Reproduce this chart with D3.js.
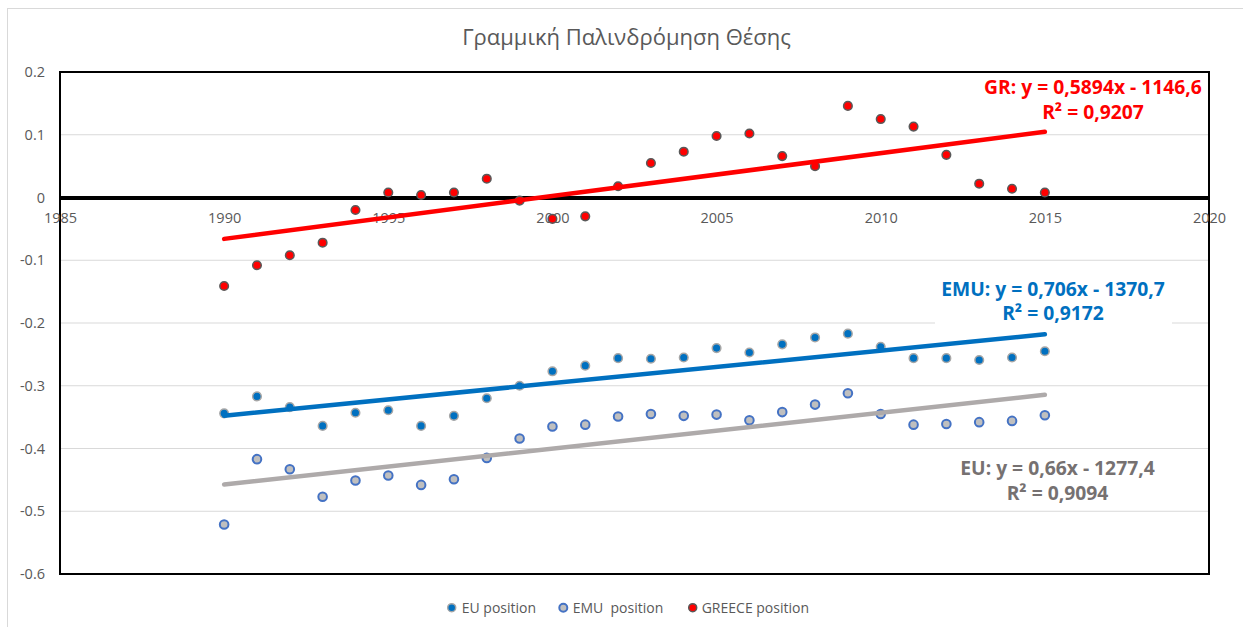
<!DOCTYPE html>
<html>
<head>
<meta charset="utf-8">
<script src="https://cdn.jsdelivr.net/npm/d3@7"></script>
<style>
  body { margin: 0; background: #fff; }
  #chart text { font-family: "Open Sans", "Noto Sans", sans-serif; }
</style>
</head>
<body>
<div id="chart"></div>
<script>
// values
const years = [1990, 1991, 1992, 1993, 1994, 1995, 1996, 1997, 1998, 1999, 2000, 2001, 2002,
               2003, 2004, 2005, 2006, 2007, 2008, 2009, 2010, 2011, 2012, 2013, 2014, 2015];
const euPosition = [-0.344, -0.317, -0.334, -0.364, -0.343, -0.339, -0.364, -0.348, -0.320, -0.300,
                    -0.277, -0.268, -0.256, -0.257, -0.255, -0.240, -0.247, -0.234, -0.223, -0.217,
                    -0.238, -0.256, -0.256, -0.259, -0.255, -0.245];
const emuPosition = [-0.521, -0.417, -0.433, -0.477, -0.451, -0.443, -0.458, -0.449, -0.415, -0.384,
                     -0.365, -0.362, -0.349, -0.345, -0.348, -0.346, -0.355, -0.342, -0.330, -0.312,
                     -0.345, -0.362, -0.361, -0.358, -0.356, -0.347];
const greecePosition = [-0.141, -0.108, -0.092, -0.072, -0.020, 0.008, 0.004, 0.008, 0.030, -0.005,
                        -0.034, -0.030, 0.018, 0.055, 0.073, 0.098, 0.102, 0.066, 0.050, 0.146,
                        0.125, 0.113, 0.068, 0.022, 0.014, 0.008];
const xTicks = [1985, 1990, 1995, 2000, 2005, 2010, 2015, 2020];
const yTicks = [0.2, 0.1, 0, -0.1, -0.2, -0.3, -0.4, -0.5, -0.6];
const seriesNames = ["EU position", "EMU  position", "GREECE position"];
const grLabel = ["GR: y = 0,5894x - 1146,6", "R² = 0,9207"];
const emuLabel = ["EMU: y = 0,706x - 1370,7", "R² = 0,9172"];
const euLabel = ["EU: y = 0,66x - 1277,4", "R² = 0,9094"];

const width = 1243, height = 627;
const plot = {left: 60, right: 1209, top: 72, bottom: 574};
const textGray = "#595959";

const svg = d3.select("#chart").append("svg")
    .attr("width", width)
    .attr("height", height);

// outer chart frame (runs off the right and bottom edge)
svg.append("rect")
    .attr("x", 7.5).attr("y", 8.5)
    .attr("width", width).attr("height", height)
    .attr("fill", "#fff")
    .attr("stroke", "#d9d9d9");

const x = d3.scaleLinear().domain([1985, 2020]).range([plot.left, plot.right]);
const y = d3.scaleLinear().domain([-0.6, 0.2]).range([plot.bottom, plot.top]);

// title
svg.append("text")
    .attr("x", 626.5).attr("y", 44.5)
    .attr("text-anchor", "middle")
    .attr("fill", textGray)
    .style("font-size", "22px")
    .text("Γραμμική Παλινδρόμηση Θέσης");

// gridlines
svg.append("g").selectAll("line")
    .data(yTicks.filter(d => d !== 0.2 && d !== -0.6 && d !== 0))
    .enter().append("line")
    .attr("x1", plot.left).attr("x2", plot.right)
    .attr("y1", d => y(d)).attr("y2", d => y(d))
    .attr("stroke", "#d9d9d9")
    .attr("stroke-width", 1);

// y axis labels
const yAxis = svg.append("g")
    .attr("transform", `translate(${plot.left},0)`)
    .call(d3.axisLeft(y).tickValues(yTicks).tickSize(0).tickPadding(15)
        .tickFormat(d => String(d)));
yAxis.select(".domain").remove();
yAxis.selectAll("text").attr("fill", textGray).style("font-size", "14.5px");

// plot border
svg.append("rect")
    .attr("x", plot.left).attr("y", plot.top)
    .attr("width", plot.right - plot.left).attr("height", plot.bottom - plot.top)
    .attr("fill", "none")
    .attr("stroke", "#000")
    .attr("stroke-width", 2);

// x axis sits on y = 0
const xAxis = svg.append("g")
    .attr("transform", `translate(0,${y(0)})`)
    .call(d3.axisBottom(x).tickValues(xTicks).tickSize(0).tickPadding(15.5)
        .tickFormat(d3.format("d")));
xAxis.select(".domain")
    .attr("stroke", "#000")
    .attr("stroke-width", 4);
xAxis.selectAll("text").attr("fill", textGray).style("font-size", "14.5px");

// points
const styles = [
    {fill: "#0070c0", stroke: "#a6a6a6", sw: 1.5},
    {fill: "#bfbfbf", stroke: "#4472c4", sw: 2},
    {fill: "#ff0000", stroke: "#595959", sw: 1.5}
];
const series = [euPosition, emuPosition, greecePosition];

series.forEach((vals, i) => {
    svg.append("g").selectAll("circle")
        .data(vals)
        .enter().append("circle")
        .attr("cx", (d, j) => x(years[j]))
        .attr("cy", d => y(d))
        .attr("r", 4.3)
        .attr("fill", styles[i].fill)
        .attr("stroke", styles[i].stroke)
        .attr("stroke-width", styles[i].sw);
});

// least squares trend lines
function linReg(xs, ys) {
    const mx = d3.mean(xs), my = d3.mean(ys);
    const sxy = d3.sum(xs, (v, k) => (v - mx) * (ys[k] - my));
    const sxx = d3.sum(xs, v => (v - mx) * (v - mx));
    const b = sxy / sxx;
    return v => my + b * (v - mx);
}

const trends = [
    {vals: euPosition, color: "#0070c0"},
    {vals: emuPosition, color: "#aeaaaa"},
    {vals: greecePosition, color: "#ff0000"}
];
const x0 = d3.min(years), x1 = d3.max(years);
trends.forEach(t => {
    const f = linReg(years, t.vals);
    svg.append("line")
        .attr("x1", x(x0)).attr("y1", y(f(x0)))
        .attr("x2", x(x1)).attr("y2", y(f(x1)))
        .attr("stroke", t.color)
        .attr("stroke-width", 4.5)
        .attr("stroke-linecap", "round");
});

// trendline equation labels
function eqLabel(lines, cx, baseY, color, box) {
    const g = svg.append("g");
    if (box) {
        g.append("rect")
            .attr("x", box[0]).attr("y", box[1])
            .attr("width", box[2]).attr("height", box[3])
            .attr("fill", "#fff");
    }
    const t = g.append("text")
        .attr("text-anchor", "middle")
        .attr("fill", color)
        .style("font-size", "19.3px")
        .style("font-weight", "bold");
    lines.forEach((s, k) => {
        t.append("tspan").attr("x", cx).attr("y", baseY + k * 24.5).text(s);
    });
}
eqLabel(grLabel, 1093, 94, "#ff0000");
eqLabel(emuLabel, 1053, 295.5, "#0070c0", [935, 274, 237, 52]);
eqLabel(euLabel, 1057.5, 475, "#767171");

// legend
const legendX = [[451.7, 461.7], [563.3, 572.7], [692.7, 701.7]];
const legend = svg.append("g");
seriesNames.forEach((name, i) => {
    legend.append("circle")
        .attr("cx", legendX[i][0]).attr("cy", 607.7)
        .attr("r", 4)
        .attr("fill", styles[i].fill)
        .attr("stroke", styles[i].stroke)
        .attr("stroke-width", styles[i].sw);
    legend.append("text")
        .attr("x", legendX[i][1]).attr("y", 612.7)
        .attr("fill", textGray)
        .style("font-size", "14px")
        .style("white-space", "pre")
        .attr("xml:space", "preserve")
        .text(name);
});
</script>
</body>
</html>
